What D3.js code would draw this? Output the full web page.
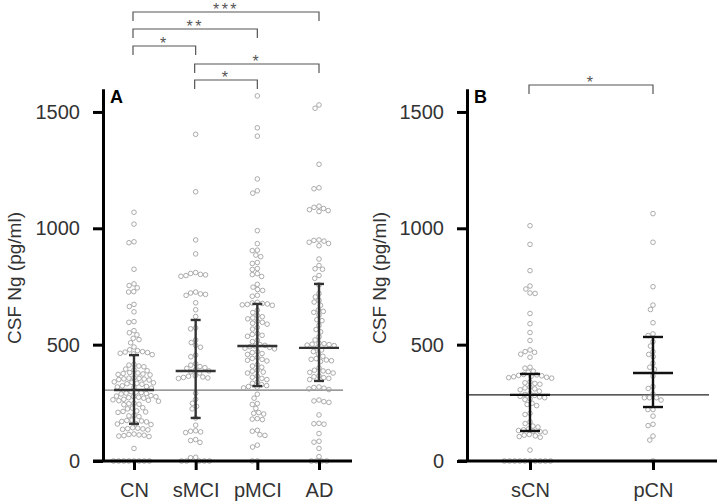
<!DOCTYPE html>
<html><head><meta charset="utf-8">
<script src="https://cdn.jsdelivr.net/npm/d3@7"></script>
<style>body{margin:0;background:#fff}svg{display:block}text{font-family:"Liberation Sans",Arial,sans-serif}</style>
</head><body><svg id="c" width="720" height="504"></svg>
<script>
// ---------- data ----------
const groupsA = ["CN", "sMCI", "pMCI", "AD"];
const groupsB = ["sCN", "pCN"];
const yTicks = [0, 500, 1000, 1500];
const yLabel = "CSF Ng (pg/ml)";

const valsCN = [1069,1018,942,938,824,761,754,744,728,726,673,664,641,599,596,560,551,542,527,522,508,490,
  478,474,470,468,466,463,460,457,415,412,408,405,395,392,388,380,378,376,374,372,370,
  358,356,355,353,352,350,348,340,338,336,334,332,330,323,320,318,316,313,
  298,296,294,292,290,288,281,279,277,276,274,272,270,265,263,261,259,257,248,246,244,242,
  229,227,224,215,213,211,209,196,194,191,176,174,172,170,168,161,159,157,
  143,141,139,138,136,134,116,114,112,111,109,107,105,54,0,0,0,0,0,0,0,0];
const valsSMCI = [1404,1157,950,890,810,806,802,800,797,794,726,722,718,716,712,680,650,621,572,568,
  520,509,497,489,455,448,418,412,406,401,398,392,387,383,378,366,364,361,359,357,355,
  291,265,248,235,224,185,154,130,128,125,122,92,88,80,16,14,0,0,0,0,0];
const valsPMCI = [1569,1432,1396,1212,1161,1151,990,934,906,904,885,878,853,849,827,823,805,801,793,759,747,737,733,712,708,
  682,679,677,675,673,671,669,648,638,625,620,615,611,600,596,592,588,574,567,548,544,540,536,519,513,
  500,497,494,491,488,485,482,470,466,462,458,445,441,437,433,430,414,408,403,390,386,382,378,
  365,360,355,350,340,334,328,
  324,320,317,314,287,270,247,243,226,208,205,202,182,180,178,132,128,113,110,68,60,0,0];
const valsAD = [1530,1516,1275,1174,1170,1095,1090,1085,1080,1076,1072,950,948,945,940,935,925,868,840,826,824,797,785,
  757,720,705,690,683,669,649,643,639,627,607,603,583,565,555,534,520,506,504,502,500,498,496,
  486,477,470,460,450,440,437,434,431,428,400,390,387,384,381,378,366,362,358,355,350,
  318,316,313,310,307,262,258,255,252,198,162,160,158,118,85,81,54,19,0,0,0,0];
const valsSCN = [1011,931,818,752,739,722,720,634,590,552,518,477,470,467,459,446,403,399,386,382,
  372,370,368,366,364,362,360,358,356,340,336,333,330,318,314,310,306,300,
  290,286,282,278,275,272,268,264,248,243,238,205,200,168,161,150,146,138,
  134,131,128,126,124,114,111,108,105,102,47,0,0,0,0,0,0,0,0,0,0];
const valsPCN = [1063,940,749,670,651,594,546,539,513,494,470,458,448,420,403,394,365,320,312,
  288,272,272,262,272,221,221,193,158,152,107,90,0];

// summary bars (median, lower quartile, upper quartile)
const medianA = [305, 387, 494, 486];
const q1A = [160, 185, 322, 344];
const q3A = [455, 606, 675, 761];
const medianB = [284, 378];
const q1B = [129, 232];
const q3B = [374, 533];

// significance comparisons
const compA = [["CN","AD","***"],["CN","pMCI","**"],["CN","sMCI","*"],["sMCI","AD","*"],["sMCI","pMCI","*"]];
const compB = [["sCN","pCN","*"]];

// ---------- drawing ----------
const svg = d3.select("#c");
const FONT = '"Liberation Sans",Arial,sans-serif';

function swarm(values, cx, y, diam) {
  const pts = values.map(v => ({v, y: y(v)})).sort((a,b) => a.y - b.y);
  const placed = [];
  pts.forEach(p => {
    const near = placed.filter(q => Math.abs(q.y - p.y) < diam);
    const cands = [0];
    near.forEach(q => {
      const dx = Math.sqrt(diam*diam - (q.y-p.y)*(q.y-p.y));
      cands.push(q.dx + dx + 0.01, q.dx - dx - 0.01);
    });
    cands.sort((a,b) => Math.abs(a) - Math.abs(b) || a - b);
    let best = 0;
    for (const c of cands) {
      if (near.every(q => (q.dx-c)*(q.dx-c) + (q.y-p.y)*(q.y-p.y) >= diam*diam - 0.05)) { best = c; break; }
    }
    p.dx = best;
    placed.push(p);
  });
  return placed.map(p => ({x: cx + p.dx, y: p.y}));
}

function panel(opt) {
  const {groups, vals, med, q1, q3, comps, xRange, axisX, xLine, letter, labelX, refEnd, refColor, barColor, capHalf, levels} = opt;
  const y = d3.scaleLinear().domain([0, 1600]).range([461, 461 - 1600*0.2327]);
  const x = d3.scalePoint().domain(groups).range(xRange);
  const g = svg.append("g");

  // reference line at first group's median
  g.append("line").attr("x1", axisX).attr("x2", refEnd)
    .attr("y1", y(med[0])).attr("y2", y(med[0]))
    .attr("stroke", refColor).attr("stroke-width", 1.3);

  // points
  groups.forEach((grp, i) => {
    const pts = swarm(vals[i], x(grp), y, 5.1);
    g.append("g").selectAll("circle").data(pts).join("circle")
      .attr("cx", d => d.x).attr("cy", d => d.y).attr("r", 2.3)
      .attr("fill", "none").attr("stroke", "#a2a2a2").attr("stroke-width", 0.9);
  });

  // median + IQR bars
  groups.forEach((grp, i) => {
    const cx = x(grp);
    const bg = g.append("g").attr("stroke", barColor).attr("stroke-width", 2.4);
    bg.append("line").attr("x1", cx).attr("x2", cx).attr("y1", y(q1[i])).attr("y2", y(q3[i]));
    bg.append("line").attr("x1", cx-capHalf).attr("x2", cx+capHalf).attr("y1", y(q1[i])).attr("y2", y(q1[i]));
    bg.append("line").attr("x1", cx-capHalf).attr("x2", cx+capHalf).attr("y1", y(q3[i])).attr("y2", y(q3[i]));
    bg.append("line").attr("x1", cx-20).attr("x2", cx+20).attr("y1", y(med[i])).attr("y2", y(med[i]));
  });

  // y axis
  const ya = g.append("g").attr("transform", `translate(${axisX},0)`)
    .call(d3.axisLeft(y).tickValues(yTicks).tickSize(10).tickSizeOuter(0).tickPadding(13).tickFormat(d3.format("d")));
  ya.select(".domain").attr("stroke", "#000").attr("stroke-width", 3);
  ya.selectAll(".tick line").attr("stroke", "#000").attr("stroke-width", 3);
  ya.selectAll(".tick text").attr("font-size", 20).attr("font-family", FONT).attr("fill", "#333");

  // x axis
  g.append("line").attr("x1", xLine[0]).attr("x2", xLine[1]).attr("y1", 461).attr("y2", 461)
    .attr("stroke", "#000").attr("stroke-width", 3);
  const xa = g.append("g").attr("transform", "translate(0,461)")
    .call(d3.axisBottom(x).tickSize(9).tickSizeOuter(0));
  xa.select(".domain").remove();
  xa.selectAll(".tick line").attr("stroke", "#000").attr("stroke-width", 3);
  xa.selectAll(".tick text").attr("font-size", 20).attr("font-family", FONT).attr("fill", "#333")
    .attr("y", 36).attr("dy", 0);

  // y label
  g.append("text").attr("transform", `translate(${labelX},${278}) rotate(-90)`)
    .attr("text-anchor", "middle").attr("font-size", 19).attr("fill", "#333").text(yLabel);

  // panel letter
  g.append("text").attr("x", axisX + 7).attr("y", 103).attr("font-size", 18).attr("font-weight", "bold")
    .attr("fill", "#000").text(letter);

  // significance brackets
  comps.forEach((c, k) => {
    const yy = levels[k];
    const x1 = x(c[0]) - 1, x2 = x(c[1]);
    g.append("path").attr("d", `M${x1},${yy+9}V${yy}H${x2}V${yy+9}`)
      .attr("fill", "none").attr("stroke", "#555").attr("stroke-width", 1.2);
    g.append("text").attr("x", (x1+x2)/2).attr("y", yy + 3).attr("text-anchor", "middle")
      .attr("font-size", 16).attr("letter-spacing", 2.5).attr("fill", "#555").text(c[2]);
  });
}

panel({groups: groupsA, vals: [valsCN, valsSMCI, valsPMCI, valsAD], med: medianA, q1: q1A, q3: q3A,
  comps: compA, xRange: [134, 319], axisX: 103, xLine: [93, 352], letter: "A", labelX: 21,
  refEnd: 343, refColor: "#777", barColor: "#333", capHalf: 5, levels: [12, 29, 46, 64, 80]});
panel({groups: groupsB, vals: [valsSCN, valsPCN], med: medianB, q1: q1B, q3: q3B,
  comps: compB, xRange: [530, 653], axisX: 467, xLine: [458, 717], letter: "B", labelX: 386,
  refEnd: 709, refColor: "#222", barColor: "#111", capHalf: 10, levels: [85]});
</script></body></html>
